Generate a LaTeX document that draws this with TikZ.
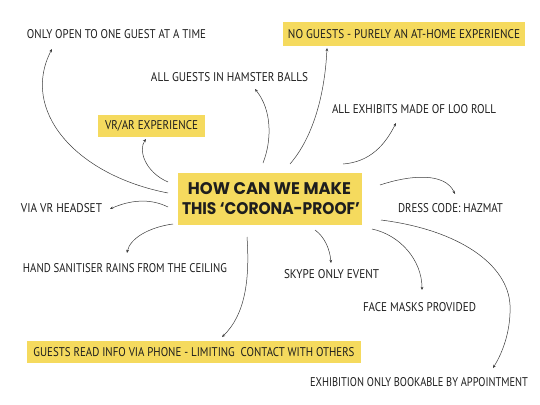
\documentclass[tikz,border=0pt]{standalone}
\usepackage{fontspec}
\usepackage{graphicx}
\setmainfont{PT Sans}
\newfontfamily\titlefont{Poppins}
\usetikzlibrary{arrows.meta}
\definecolor{hlyellow}{HTML}{F5DA5E}
\definecolor{inkcol}{HTML}{1E1E1E}
\definecolor{linecol}{HTML}{3A3A3A}
\newcommand{\fitw}[2]{\resizebox{#1pt}{9pt}{#2}}
\newcommand{\fitt}[2]{\resizebox{#1pt}{12pt}{\titlefont\bfseries #2}}
\begin{document}
\begin{tikzpicture}[x=1pt,y=-1pt,
  lbl/.style={inner sep=0pt,text=inkcol,anchor=center},
  hlbox/.style={fill=hlyellow,inner sep=0pt,text=inkcol,anchor=center},
  conn/.style={draw=linecol,line width=0.5pt,-{Stealth[length=3.2pt,width=2.8pt]}}]
\useasboundingbox (0,0) rectangle (540,404);
% central question
\node[hlbox,minimum width=184pt,minimum height=52pt] (title) at (270,199) {};
\node[lbl] (t1) at (269.5,189) {\fitt{163}{HOW CAN WE MAKE}};
\node[lbl] (t2) at (271,209) {\fitt{178}{THIS ‘CORONA-PROOF’}};
% ideas
\node[lbl] (n1) at (116.5,34.5) {\fitw{179}{ONLY OPEN TO ONE GUEST AT A TIME}};
\node[hlbox,minimum width=242pt,minimum height=24pt] (n2) at (404,34) {\fitw{232}{NO GUESTS - PURELY AN AT-HOME EXPERIENCE}};
\node[lbl] (n3) at (229.5,77) {\fitw{157}{ALL GUESTS IN HAMSTER BALLS}};
\node[lbl] (n4) at (414,109) {\fitw{164}{ALL EXHIBITS MADE OF LOO ROLL}};
\node[hlbox,minimum width=107pt,minimum height=22pt] (n5) at (151.5,126) {\fitw{93}{VR/AR EXPERIENCE}};
\node[lbl] (n6) at (61.5,208.5) {\fitw{81}{VIA VR HEADSET}};
\node[lbl] (n7) at (450.5,208.5) {\fitw{105}{DRESS CODE: HAZMAT}};
\node[lbl] (n8) at (125,268) {\fitw{204}{HAND SANITISER RAINS FROM THE CEILING}};
\node[lbl] (n9) at (331.5,274) {\fitw{95}{SKYPE ONLY EVENT}};
\node[lbl] (n10) at (419.5,307.5) {\fitw{113}{FACE MASKS PROVIDED}};
\node[hlbox,minimum width=334pt,minimum height=22pt] (n11) at (194,352) {\fitw{321}{GUESTS READ INFO VIA PHONE - LIMITING\ \ CONTACT WITH OTHERS}};
\node[lbl] (n12) at (419,382) {\fitw{218}{EXHIBITION ONLY BOOKABLE BY APPOINTMENT}};
% connector ends
\coordinate (s1) at (168,193);  \coordinate (e1) at (52,49);
\coordinate (s2) at (168,182);  \coordinate (e2) at (146,139);
\coordinate (s3) at (263,163);  \coordinate (e3) at (255,89);
\coordinate (s4) at (290,164);  \coordinate (e4) at (327,48);
\coordinate (s5) at (343,164);  \coordinate (e5) at (396,123);
\coordinate (s6) at (168,207);  \coordinate (e6) at (110,209);
\coordinate (s7) at (173,224);  \coordinate (e7) at (127,253);
\coordinate (s8) at (247,237);  \coordinate (e8) at (222,337);
\coordinate (s9) at (315,230);  \coordinate (e9) at (331,263);
\coordinate (s10) at (372,229); \coordinate (e10) at (422,290);
\coordinate (s11) at (381,220); \coordinate (e11) at (493,368);
\coordinate (s12) at (380,185); \coordinate (e12) at (455,194);
% connectors
\draw[conn] (s1) .. controls (75,175) and (20,110) .. (e1);
\draw[conn] (s2) .. controls (145,172) and (138,150) .. (e2);
\draw[conn] (s3) .. controls (272,140) and (272,110) .. (e3);
\draw[conn] (s4) .. controls (315,135) and (325,90) .. (e4);
\draw[conn] (s5) .. controls (370,162) and (385,145) .. (e5);
\draw[conn] (s6) .. controls (150,198) and (130,200) .. (e6);
\draw[conn] (s7) .. controls (150,227) and (130,238) .. (e7);
\draw[conn] (s8) .. controls (250,280) and (245,315) .. (e8);
\draw[conn] (s9) .. controls (325,237) and (330,250) .. (e9);
\draw[conn] (s10) .. controls (400,235) and (422,260) .. (e10);
\draw[conn] (s11) .. controls (460,230) and (508,265) .. (510,305) .. controls (511,330) and (503,352) .. (e11);
\draw[conn] (s12) .. controls (410,175) and (445,172) .. (e12);
\end{tikzpicture}
\end{document}
